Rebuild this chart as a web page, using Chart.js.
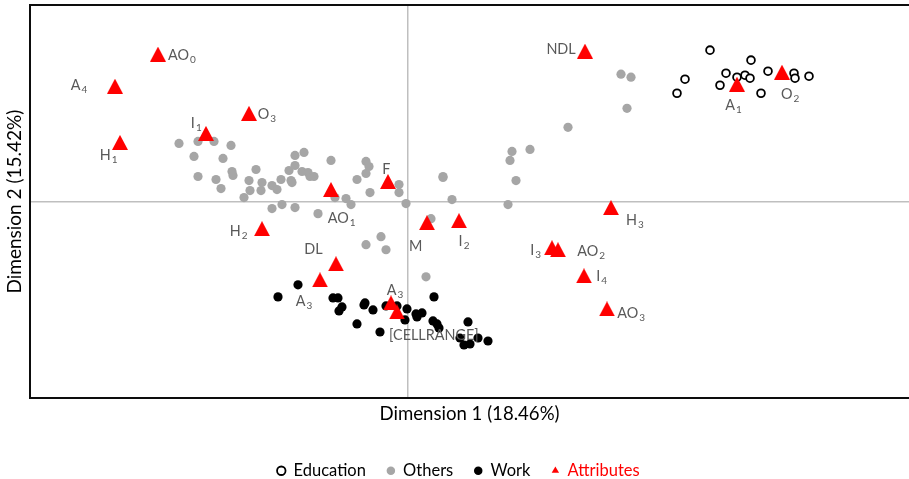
<!DOCTYPE html>
<html><head><meta charset="utf-8">
<script src="https://cdn.jsdelivr.net/npm/chart.js@4.4.1/dist/chart.umd.min.js"></script>
<style>html,body{margin:0;padding:0;background:#fff;overflow:hidden}#wrap{width:909px;height:479px;position:relative}</style>
</head><body><div id="wrap"><canvas id="c" width="909" height="479"></canvas></div>
<script>
// ---------- data ----------
const seriesNames = ['Education', 'Others', 'Work', 'Attributes'];
const axisTitleX = 'Dimension 1 (18.46%)';
const axisTitleY = 'Dimension 2 (15.42%)';

const educationX = [3.02,2.77,2.69,3.18,3.12,3.29,3.37,3.42,3.43,3.60,3.53,3.86,3.87,4.01];
const educationY = [1.51,1.22,1.08,1.28,1.16,1.24,1.26,1.23,1.41,1.30,1.08,1.28,1.23,1.25];

const othersX = [-2.29,-2.10,-1.94,-1.77,-2.14,-1.85,-2.10,-1.92,-1.87,-1.76,
  -1.75,-1.52,-1.59,-1.46,-1.58,-1.47,-1.64,-1.36,-1.31,-1.27,
  -1.19,-1.17,-1.16,-1.13,-1.13,-1.04,-1.06,-1.00,-0.98,-0.94,
  -0.77,-0.73,-0.62,-0.57,-0.51,-0.42,-0.39,-0.42,-0.38,-0.09,
  -0.09,-0.02,-1.36,-1.26,-1.13,-0.90,-0.42,-0.27,-0.22,0.18,
  0.23,0.35,0.35,0.44,1.04,1.02,1.22,1.08,1.00,1.60,
  2.13,2.23,2.19];
const othersY = [0.58,0.60,0.60,0.56,0.45,0.43,0.25,0.22,0.13,0.30,
  0.26,0.32,0.21,0.19,0.11,0.11,0.04,0.16,0.12,0.22,
  0.31,0.21,0.19,0.36,0.46,0.49,0.30,0.29,0.25,0.25,
  0.41,0.04,0.03,-0.03,0.22,0.40,0.35,0.28,0.09,0.17,
  0.09,-0.02,-0.07,-0.03,-0.06,-0.12,-0.43,-0.35,-0.48,-0.75,
  -0.17,0.25,0.24,0.02,0.50,0.41,0.52,0.21,-0.03,0.74,
  1.27,1.24,0.93];

const workX = [-1.10,-1.30,-0.75,-0.70,-0.66,-0.69,-0.43,-0.44,-0.35,-0.51,
  -0.28,-0.22,-0.11,-0.01,-0.03,0.08,0.14,0.09,0.26,0.25,
  0.29,0.31,0.60,0.52,0.56,0.62,0.70,0.80];
const workY = [-0.83,-0.95,-0.96,-0.96,-1.05,-1.09,-1.01,-1.03,-1.08,-1.22,
  -1.30,-1.04,-1.04,-1.07,-1.18,-1.12,-1.11,-1.15,-0.95,-1.19,
  -1.22,-1.26,-1.20,-1.36,-1.43,-1.42,-1.36,-1.39];

const attrNames = ['AO','A','O','I','H','AO','F','H','DL','A','A','[CELLRANGE]','M','I','H','I','AO','I','AO','NDL','A','O'];
const attrSubs  = ['0','4','3','1','1','1','','2','','3','3','','','2','3','3','2','4','3','','1','2'];
const attrX = [-2.50,-2.93,-1.59,-2.02,-2.88,-0.77,-0.20,-1.46,-0.72,-0.88,-0.17,-0.11,0.19,0.51,2.03,1.44,1.50,1.76,1.99,1.77,3.29,3.74];
const attrY = [1.47,1.15,0.88,0.68,0.59,0.12,0.20,-0.27,-0.62,-0.78,-1.01,-1.10,-0.21,-0.19,-0.06,-0.46,-0.48,-0.74,-1.07,1.50,1.17,1.29];

// ---------- styles ----------
// label placement relative to each marker: [dx, dy, align]
const labelStyle = [
  [10,0.5,'left'],[-27.7,-1.2,'right'],[8.8,0,'left'],[-4.3,-10.3,'right'],[-2.4,12.7,'right'],
  [-3.3,27.8,'left'],[-5.7,-12.3,'left'],[-14.4,2.2,'right'],[-13.3,-15.3,'right'],[-7.8,21,'right'],
  [-4.3,-13.2,'left'],[-8,23,'left'],[-4.7,23,'right'],[-0.4,20.5,'left'],[15,12.3,'left'],
  [-11,1.7,'right'],[19.3,1.3,'left'],[12.2,0.1,'left'],[10.3,3.9,'left'],[-9.3,-2.4,'right'],
  [-11.7,20.7,'left'],[-1,21.7,'left']
];
const FONT = 'Lato, "Open Sans", sans-serif';
const MAIN_SIZE = 14.4, SUB_SIZE = 10;

const zip = (xs, ys) => xs.map((x, i) => ({x, y: ys[i]}));

// red triangle marker
const tri = document.createElement('canvas');
tri.width = 16; tri.height = 15;
(function(){ const c = tri.getContext('2d'); c.fillStyle = '#ff0000'; c.beginPath();
  c.moveTo(8, 0); c.lineTo(16, 15); c.lineTo(0, 15); c.closePath(); c.fill(); })();

const labelPlugin = {
  id: 'attrLabels',
  afterDatasetsDraw(chart) {
    const meta = chart.getDatasetMeta(3);
    const ctx = chart.ctx;
    ctx.save();
    ctx.fillStyle = '#595959';
    ctx.textBaseline = 'alphabetic';
    const cap = MAIN_SIZE * 0.72;
    meta.data.forEach((pt, i) => {
      const [dx, dy, align] = labelStyle[i];
      const main = attrNames[i], sub = attrSubs[i];
      ctx.font = MAIN_SIZE + 'px ' + FONT;
      const wm = ctx.measureText(main).width;
      ctx.font = SUB_SIZE + 'px ' + FONT;
      const ws = sub ? ctx.measureText(sub).width + 1 : 0;
      let x0 = pt.x + dx;
      if (align === 'right') x0 -= wm + ws;
      const yb = pt.y + dy + cap / 2;
      ctx.font = MAIN_SIZE + 'px ' + FONT;
      ctx.fillText(main, x0, yb);
      if (sub) { ctx.font = SUB_SIZE + 'px ' + FONT; ctx.fillText(sub, x0 + wm + 1, yb + 3); }
    });
    ctx.restore();
  }
};

const zeroGrid = (c) => (c.tick && c.tick.value === 0) ? '#bfbfbf' : 'rgba(0,0,0,0)';

new Chart(document.getElementById('c'), {
  type: 'scatter',
  data: {
    datasets: [
      { label: seriesNames[0], data: zip(educationX, educationY), pointStyle: 'circle', pointRadius: 3.9, borderWidth: 1.8,
        backgroundColor: '#ffffff', borderColor: '#000000', order: 3 },
      { label: seriesNames[1], data: zip(othersX, othersY), pointStyle: 'circle', pointRadius: 4.6, borderWidth: 0,
        backgroundColor: '#a6a6a6', borderColor: '#a6a6a6', order: 2 },
      { label: seriesNames[2], data: zip(workX, workY), pointStyle: 'circle', pointRadius: 4.6, borderWidth: 0,
        backgroundColor: '#000000', borderColor: '#000000', order: 1 },
      { label: seriesNames[3], data: zip(attrX, attrY), pointStyle: tri, pointRadius: 8,
        backgroundColor: '#ff0000', borderColor: '#ff0000', order: 0 }
    ]
  },
  options: {
    responsive: false, animation: false, devicePixelRatio: 1,
    layout: { autoPadding: false, padding: { left: 8, right: 0, top: 5, bottom: -10 } },
    plugins: {
      tooltip: { enabled: false },
      legend: {
        position: 'bottom',
        labels: {
          usePointStyle: true, boxWidth: 8, boxHeight: 6, padding: 21,
          font: { family: FONT, size: 16.5 },
          sort: (a, b) => a.datasetIndex - b.datasetIndex,
          generateLabels(chart) {
            const items = Chart.defaults.plugins.legend.labels.generateLabels(chart);
            items.forEach(it => {
              if (it.datasetIndex === 3) {
                it.pointStyle = 'triangle'; it.fillStyle = '#ff0000'; it.strokeStyle = '#ff0000'; it.lineWidth = 0;
                it.fontColor = '#ff0000';
              } else {
                it.fontColor = '#000000';
              }
            });
            return items;
          }
        }
      }
    },
    scales: {
      x: {
        type: 'linear', position: 'bottom', min: -3.78, max: 5.01,
        ticks: { display: false, stepSize: 1 },
        grid: { display: true, drawTicks: false, color: zeroGrid, lineWidth: 1.5 },
        border: { display: true, color: '#0d0d0d', width: 2 },
        title: { display: true, text: axisTitleX, color: '#000000', font: { family: FONT, size: 18.6 }, padding: { top: 5, bottom: 16 } }
      },
      y: {
        type: 'linear', position: 'left', min: -1.96, max: 1.96,
        ticks: { display: false, stepSize: 1 },
        grid: { display: true, drawTicks: false, color: zeroGrid, lineWidth: 1.5 },
        border: { display: true, color: '#0d0d0d', width: 2 },
        title: { display: true, text: axisTitleY, color: '#000000', font: { family: FONT, size: 19, lineHeight: 1 }, padding: { top: -2.5, bottom: 5.5 } }
      },
      x2: {
        type: 'linear', position: 'top', display: true,
        ticks: { display: false }, grid: { display: false, drawTicks: false },
        border: { display: true, color: '#0d0d0d', width: 2 }
      }
    }
  },
  plugins: [labelPlugin]
});
</script>
</body></html>
